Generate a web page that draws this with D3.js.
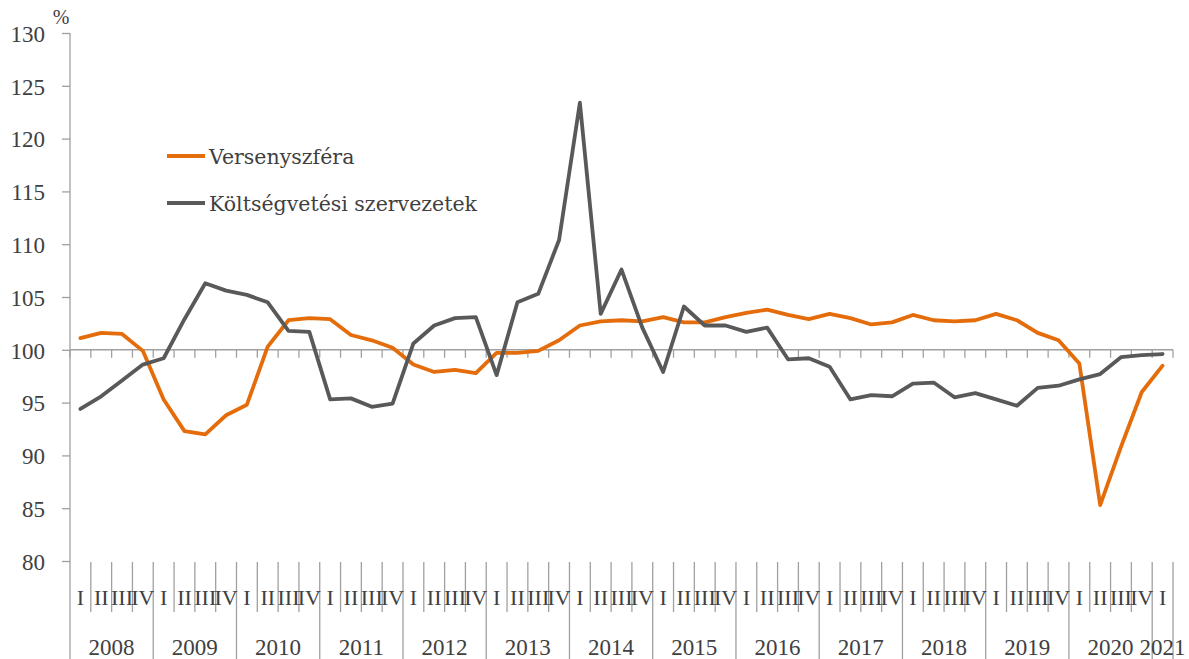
<!DOCTYPE html>
<html>
<head>
<meta charset="utf-8">
<script src="https://cdn.jsdelivr.net/npm/d3@7"></script>
<style>
  body { margin: 0; background: #fff; }
</style>
</head>
<body>
<svg id="chart" width="1189" height="659"></svg>
<script>
const years = ["2008","2009","2010","2011","2012","2013","2014","2015","2016","2017","2018","2019","2020","2021"];
const quarterNames = ["I","II","III","IV"];
const yTicks = [80, 85, 90, 95, 100, 105, 110, 115, 120, 125, 130];

const versenyszfera = [
  101.1, 101.6, 101.5, 99.9,
  95.3, 92.3, 92.0, 93.8,
  94.8, 100.3, 102.8, 103.0,
  102.9, 101.4, 100.9, 100.2,
  98.6, 97.9, 98.1, 97.8,
  99.7, 99.7, 99.9, 100.9,
  102.3, 102.7, 102.8, 102.7,
  103.1, 102.6, 102.6, 103.1,
  103.5, 103.8, 103.3, 102.9,
  103.4, 103.0, 102.4, 102.6,
  103.3, 102.8, 102.7, 102.8,
  103.4, 102.8, 101.6, 100.9,
  98.7, 85.3, 90.8, 96.0,
  98.5
];
const koltsegvetesi = [
  94.4, 95.6, 97.1, 98.6,
  99.2, 102.9, 106.3, 105.6,
  105.2, 104.5, 101.8, 101.7,
  95.3, 95.4, 94.6, 94.9,
  100.6, 102.3, 103.0, 103.1,
  97.6, 104.5, 105.3, 110.4,
  123.4, 103.4, 107.6, 102.1,
  97.9, 104.1, 102.3, 102.3,
  101.7, 102.1, 99.1, 99.2,
  98.4, 95.3, 95.7, 95.6,
  96.8, 96.9, 95.5, 95.9,
  95.3, 94.7, 96.4, 96.6,
  97.2, 97.7, 99.3, 99.5,
  99.6
];
const seriesNames = ["Versenyszféra", "Költségvetési szervezetek"];
const seriesColors = ["#E46C0A", "#595959"];

const categories = [];
years.forEach((yr) => {
  const nq = yr === "2021" ? 1 : 4;
  for (let q = 0; q < nq; q++) categories.push({ year: yr, q: quarterNames[q], id: yr + "-" + q });
});

const FONT = "'Liberation Serif', 'Times New Roman', serif";
const LEGEND_FONT = "'DejaVu Serif', serif";
const TEXT = "#404040";
const svg = d3.select("#chart");
const mLeft = 70, mRight = 1173, mTop = 33, mBottom = 561;
const axisColor = "#A0A0A0";

const x = d3.scaleBand().domain(categories.map(d => d.id)).range([mLeft, mRight]).padding(0);
const y = d3.scaleLinear().domain([80, 130]).range([mBottom, mTop]);
const bw = x.bandwidth();

const yAxis = d3.axisLeft(y).tickValues(yTicks).tickSize(8).tickPadding(17).tickFormat(d3.format("d"));
const gy = svg.append("g").attr("transform", `translate(${mLeft},0)`).call(yAxis)
  .attr("font-family", FONT).attr("font-size", 23);
gy.select(".domain").remove();
gy.selectAll(".tick line").attr("stroke", axisColor).attr("stroke-width", 1.3);
gy.selectAll(".tick text").attr("font-family", FONT).attr("font-size", 23)
  .attr("fill", TEXT).attr("dy", "0.36em");
svg.append("line").attr("x1", mLeft).attr("x2", mLeft).attr("y1", mTop).attr("y2", 659)
  .attr("stroke", axisColor).attr("stroke-width", 1.3);

svg.append("text").attr("x", 61).attr("y", 24).attr("text-anchor", "middle")
  .attr("font-family", FONT).attr("font-size", 20).attr("fill", TEXT).text("%");

const y100 = y(100);
svg.append("line").attr("x1", mLeft).attr("x2", mRight).attr("y1", y100).attr("y2", y100)
  .attr("stroke", axisColor).attr("stroke-width", 1.6);
const boundaries = d3.range(categories.length + 1).map(i => mLeft + i * bw);
svg.append("g").selectAll("line").data(boundaries).join("line")
  .attr("x1", d => d).attr("x2", d => d).attr("y1", y100).attr("y2", y100 + 8)
  .attr("stroke", axisColor).attr("stroke-width", 1.3);

const lab = svg.append("g");
boundaries.forEach((bx, i) => {
  if (i === 0) return;
  const isYear = i === categories.length || categories[i].q === "I";
  lab.append("line").attr("x1", bx).attr("x2", bx).attr("y1", mBottom + 1).attr("y2", isYear ? 659 : 612)
    .attr("stroke", axisColor).attr("stroke-width", 1.3);
});
lab.selectAll("text.q").data(categories).join("text").attr("class", "q")
  .attr("x", d => x(d.id) + bw / 2).attr("y", 605).attr("text-anchor", "middle")
  .attr("font-family", FONT).attr("font-size", 22).attr("fill", TEXT).text(d => d.q);
years.forEach(yr => {
  const ids = categories.filter(c => c.year === yr).map(c => c.id);
  const x0 = x(ids[0]), x1 = x(ids[ids.length - 1]) + bw;
  lab.append("text").attr("x", (x0 + x1) / 2).attr("y", 655).attr("text-anchor", "middle")
    .attr("font-family", FONT).attr("font-size", 23).attr("fill", TEXT).text(yr);
});

const line = d3.line().x((d, i) => x(categories[i].id) + bw / 2).y(d => y(d));
[versenyszfera, koltsegvetesi].forEach((s, k) => {
  svg.append("path").datum(s).attr("d", line).attr("fill", "none")
    .attr("stroke", seriesColors[k]).attr("stroke-width", 3.8)
    .attr("stroke-linejoin", "round").attr("stroke-linecap", "round");
});

const lg = svg.append("g");
seriesNames.forEach((n, k) => {
  const ly = 156 + k * 47;
  lg.append("line").attr("x1", 167).attr("x2", 205).attr("y1", ly).attr("y2", ly)
    .attr("stroke", seriesColors[k]).attr("stroke-width", 3.8);
  lg.append("text").attr("x", 209).attr("y", ly + 7.5)
    .attr("font-family", LEGEND_FONT).attr("font-size", 20.5).attr("fill", TEXT).text(n);
});
</script>
</body>
</html>
